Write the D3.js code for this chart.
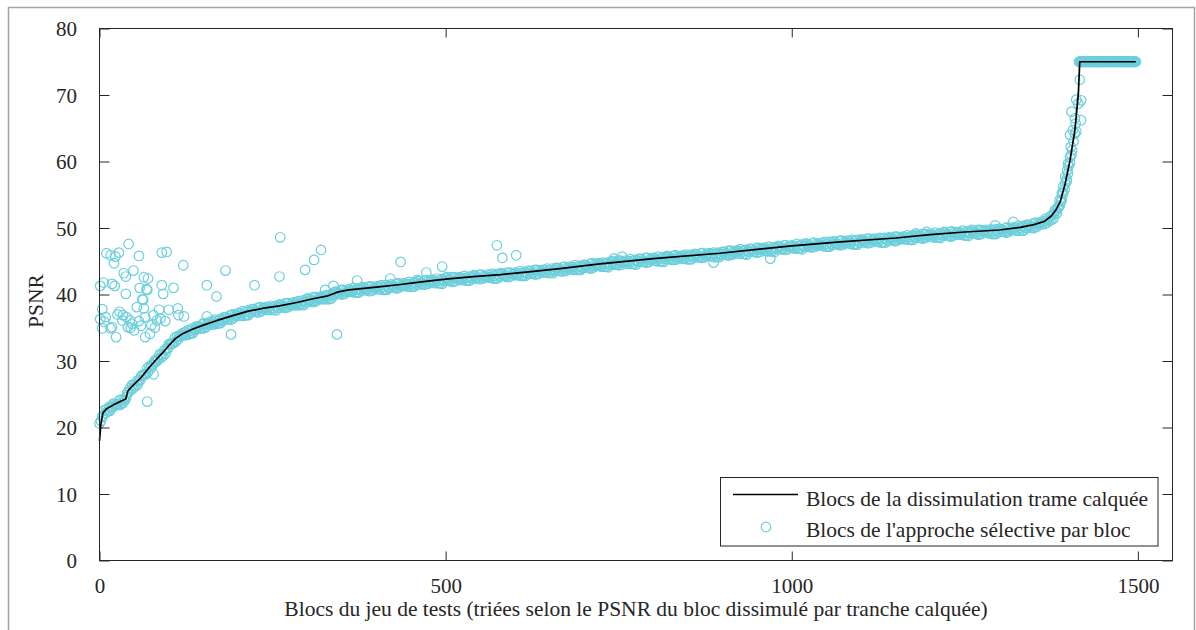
<!DOCTYPE html>
<html>
<head>
<meta charset="utf-8">
<script src="https://cdn.jsdelivr.net/npm/d3@7"></script>
<style>
  html, body { margin: 0; padding: 0; background: #fff; }
  svg { display: block; }
  text { font-family: "Liberation Serif", "Times New Roman", serif; fill: #262626; }
</style>
</head>
<body>
<svg id="chart" width="1196" height="630"></svg>
<script>
// ---------- DATA ----------
const xTicks = [0, 500, 1000, 1500];
const yTicks = [0, 10, 20, 30, 40, 50, 60, 70, 80];
const xLabel = "Blocs du jeu de tests (triées selon le PSNR du bloc dissimulé par tranche calquée)";
const yLabel = "PSNR";
const seriesNames = ["Blocs de la dissimulation trame calquée", "Blocs de l'approche sélective par bloc"];

// Black line: frame-copy concealment, sorted PSNR (block index, PSNR)
const lineIdx  = [0, 2, 5, 10, 20, 30, 38, 41, 50, 60, 70, 80, 90, 100, 110, 120, 135, 150, 170, 195,
                  215, 235, 260, 285, 310, 330, 345, 360, 400, 435, 465, 500, 540, 580, 620, 665, 723, 800, 896, 950,
                  1000, 1070, 1150, 1200, 1250, 1300, 1330, 1350, 1365, 1375, 1382, 1388, 1395, 1402, 1409, 1414, 1416, 1497];
const linePsnr = [18.0, 20.5, 22.2, 22.8, 23.4, 23.9, 24.3, 25.5, 26.5, 27.5, 28.8, 30.0, 31.1, 32.3, 33.4, 34.1, 34.8, 35.4, 36.1, 36.9,
                  37.5, 37.9, 38.3, 38.8, 39.4, 39.8, 40.4, 40.7, 41.1, 41.5, 41.9, 42.3, 42.7, 43.0, 43.4, 43.9, 44.6, 45.4, 46.2, 46.8,
                  47.3, 47.9, 48.5, 49.0, 49.4, 49.7, 50.1, 50.5, 51.0, 51.8, 52.8, 54.0, 56.7, 60.2, 64.7, 70.2, 75.0, 75.0];

// Cyan circles: block-selective approach, dense band along the curve.
// Three interleaved samplings, one value every 5 blocks, starting at block 0, 2 and 4.
const bandStep = 5;
const bandPsnr = [
  20.6,21.8,22.7,22.5,23.6,23.4,23.4,24.2,25.2,25.6,
  26.4,26.4,27.7,27.9,28.3,29.4,30.1,30.2,31.0,31.1,
  32.5,32.6,32.9,33.8,34.2,33.9,34.5,34.2,35.2,34.9,
  34.9,35.6,35.9,35.5,36.0,35.7,36.6,36.3,36.2,36.9,
  37.2,36.8,37.3,36.9,37.8,37.4,37.3,37.9,38.1,37.7,
  38.0,37.6,38.5,38.1,38.0,38.6,38.8,38.4,38.8,38.4,
  39.4,39.0,38.9,39.5,39.7,39.3,39.7,39.4,40.4,40.1,
  40.0,40.6,40.8,40.4,40.7,40.3,41.1,40.7,40.5,41.1,
  41.2,40.8,41.1,40.7,41.5,41.1,40.9,41.5,41.7,41.2,
  41.6,41.2,42.0,41.6,41.5,42.0,42.2,41.7,42.1,41.6,
  42.5,42.1,41.9,42.5,42.6,42.2,42.5,42.1,42.9,42.4,
  42.3,42.8,43.0,42.5,42.8,42.4,43.2,42.8,42.6,43.2,
  43.3,42.9,43.2,42.8,43.6,43.2,43.0,43.6,43.7,43.3,
  43.6,43.2,44.0,43.6,43.5,44.0,44.2,43.7,44.1,43.7,
  44.5,44.1,43.9,44.5,44.7,44.2,44.6,44.1,45.0,44.5,
  44.4,44.9,45.1,44.6,45.0,44.5,45.4,44.9,44.8,45.3,
  45.5,45.0,45.4,44.9,45.8,45.3,45.2,45.7,45.8,45.4,
  45.7,45.3,46.1,45.6,45.5,46.0,46.2,45.7,46.1,45.6,
  46.4,46.0,45.9,46.4,46.6,46.1,46.5,46.0,46.9,46.4,
  46.3,46.9,47.0,46.5,46.9,46.4,47.3,46.8,46.7,47.2,
  47.4,46.9,47.3,46.8,47.7,47.2,47.1,47.6,47.7,47.3,
  47.6,47.2,48.0,47.6,47.4,47.9,48.1,47.6,48.0,47.5,
  48.3,47.9,47.7,48.2,48.4,47.9,48.3,47.8,48.6,48.2,
  48.0,48.6,48.7,48.3,48.6,48.2,49.0,48.6,48.4,49.0,
  49.1,48.6,49.0,48.5,49.4,48.9,48.7,49.3,49.4,49.0,
  49.3,48.8,49.7,49.2,49.0,49.6,49.7,49.2,49.5,49.1,
  49.9,49.5,49.3,49.9,50.1,49.6,50.0,49.6,50.5,50.1,
  50.0,50.7,50.9,50.6,51.3,51.2,52.7,53.1,54.3,56.7,
  59.3,61.7,65.7,75,75,75,75,75,75,75,
  75,75,75,75,75,75,75,75,75,75
];
const band2Start = 2;
const band2Psnr = [
  21.0,22.6,22.4,23.1,23.6,23.4,24.2,24.1,25.3,26.4,
  26.2,27.1,27.9,28.0,29.2,29.4,29.9,31.0,30.8,31.8,
  32.6,32.7,33.7,33.7,33.9,34.6,34.2,34.8,35.2,34.9,
  35.7,35.5,35.5,36.2,35.7,36.2,36.6,36.3,37.0,36.8,
  36.8,37.5,36.9,37.4,37.8,37.4,38.1,37.8,37.7,38.3,
  37.7,38.2,38.4,38.0,38.7,38.4,38.4,39.0,38.5,39.0,
  39.3,38.9,39.6,39.3,39.3,39.9,39.3,40.0,40.4,40.1,
  40.7,40.4,40.4,41.0,40.3,40.8,41.0,40.6,41.2,40.9,
  40.8,41.4,40.7,41.2,41.5,41.0,41.7,41.3,41.3,41.9,
  41.2,41.7,42.0,41.5,42.2,41.8,41.8,42.4,41.7,42.2,
  42.4,42.0,42.6,42.3,42.2,42.8,42.1,42.6,42.8,42.4,
  43.0,42.6,42.6,43.1,42.4,42.9,43.1,42.7,43.3,43.0,
  42.9,43.5,42.8,43.3,43.5,43.1,43.7,43.4,43.3,43.9,
  43.3,43.7,44.0,43.5,44.2,43.8,43.8,44.4,43.7,44.2,
  44.4,44.0,44.7,44.3,44.3,44.8,44.2,44.6,44.9,44.5,
  45.1,44.8,44.7,45.3,44.6,45.1,45.3,44.9,45.5,45.2,
  45.1,45.7,45.0,45.4,45.7,45.2,45.9,45.5,45.4,46.0,
  45.3,45.8,46.0,45.6,46.2,45.8,45.8,46.3,45.7,46.1,
  46.4,45.9,46.6,46.2,46.2,46.8,46.1,46.5,46.8,46.4,
  47.0,46.7,46.6,47.2,46.5,47.0,47.2,46.8,47.4,47.1,
  47.0,47.6,46.9,47.3,47.6,47.1,47.8,47.4,47.4,47.9,
  47.2,47.7,47.9,47.5,48.1,47.7,47.7,48.2,47.6,48.0,
  48.2,47.8,48.4,48.1,48.0,48.5,47.9,48.3,48.5,48.1,
  48.7,48.4,48.3,48.9,48.2,48.7,48.9,48.5,49.1,48.8,
  48.7,49.3,48.6,49.0,49.3,48.8,49.5,49.1,49.0,49.6,
  48.9,49.3,49.6,49.1,49.7,49.4,49.3,49.8,49.1,49.6,
  49.8,49.4,50.1,49.7,49.7,50.3,49.6,50.1,50.4,50.0,
  50.8,50.5,50.6,51.4,51.1,52.0,52.6,53.4,55.2,57.3,
  59.8,63.0
];
const band3Start = 4;
const band3Psnr = [
  21.6,22.2,23.1,23.0,23.5,24.1,23.7,24.6,25.9,25.9,
  27.0,27.1,27.9,28.9,28.9,29.8,30.4,30.5,31.7,31.9,
  32.6,33.5,33.3,33.9,34.3,34.0,34.9,34.7,35.1,35.6,
  35.1,35.6,35.9,35.6,36.3,36.1,36.5,36.9,36.5,36.9,
  37.2,36.8,37.6,37.3,37.6,38.0,37.5,37.9,38.1,37.7,
  38.3,38.0,38.3,38.7,38.2,38.6,38.8,38.4,39.1,38.8,
  39.2,39.6,39.1,39.5,39.7,39.3,40.0,39.9,40.3,40.7,
  40.1,40.5,40.7,40.3,40.9,40.6,40.8,41.2,40.6,41.0,
  41.2,40.7,41.4,41.0,41.3,41.6,41.1,41.5,41.6,41.2,
  41.8,41.5,41.8,42.1,41.6,42.0,42.1,41.7,42.3,42.0,
  42.2,42.6,42.0,42.4,42.5,42.1,42.7,42.4,42.6,43.0,
  42.4,42.7,42.9,42.4,43.1,42.7,42.9,43.3,42.7,43.1,
  43.2,42.8,43.4,43.1,43.3,43.7,43.1,43.5,43.7,43.2,
  43.9,43.5,43.8,44.1,43.6,44.0,44.1,43.7,44.3,44.0,
  44.3,44.6,44.1,44.5,44.6,44.2,44.8,44.5,44.7,45.1,
  44.5,44.9,45.0,44.6,45.2,44.9,45.1,45.5,44.9,45.3,
  45.4,45.0,45.6,45.3,45.5,45.8,45.3,45.6,45.8,45.3,
  46.0,45.6,45.8,46.2,45.6,46.0,46.1,45.6,46.3,45.9,
  46.2,46.6,46.0,46.4,46.5,46.1,46.7,46.4,46.6,47.0,
  46.4,46.8,46.9,46.5,47.1,46.8,47.0,47.4,46.8,47.2,
  47.3,46.9,47.5,47.2,47.4,47.7,47.2,47.5,47.7,47.2,
  47.9,47.5,47.7,48.1,47.5,47.9,48.0,47.5,48.2,47.8,
  48.1,48.4,47.8,48.2,48.3,47.8,48.5,48.1,48.4,48.7,
  48.2,48.5,48.7,48.2,48.9,48.5,48.8,49.1,48.6,48.9,
  49.0,48.6,49.2,48.9,49.1,49.4,48.9,49.2,49.3,48.9,
  49.5,49.2,49.4,49.7,49.1,49.5,49.6,49.1,49.8,49.4,
  49.7,50.0,49.5,49.9,50.0,49.6,50.3,50.0,50.3,50.7,
  50.2,50.7,51.0,50.8,51.8,52.1,53.0,54.0,55.8,58.2,
  61.0,64.2
];
// Saturated blocks at the top right: every block from 1416 to 1497 reads 75 dB
const capFirst = 1416, capLast = 1497, capPsnr = 75;

// Cyan circles: scattered points away from the band (block index, PSNR)
const extraIdx = [
  42, 10, 16, 23, 28, 21, 57, 90, 97, 121, 261, 182, 260, 297, 35, 38, 49, 64, 70, 1,
  6, 18, 22, 38, 58, 68, 90, 92, 107, 155, 169, 224, 62, 4, 1, 7, 4, 18, 24, 29,
  34, 39, 44, 33, 41, 50, 47, 54, 63, 66, 66, 73, 78, 83, 88, 86, 100, 113, 122, 190,
  69, 78, 9, 16, 69, 64, 114, 155, 57, 60, 75, 80, 95, 45, 26,
  310, 320, 326, 338, 343, 372, 420, 435, 459, 472, 495, 502, 574, 582, 602, 743, 755, 819, 887, 925,
  955, 969, 1022, 1179, 1195, 1294, 1320,
  1416, 1411, 1418, 1414, 1404, 1418, 1409, 1406, 1402, 1411, 1403, 1402, 1399, 1398, 1395, 1397, 1392, 1390, 1387, 1385,
  1383, 1378
];
const extraPsnr = [
  47.6, 46.2, 45.9, 45.7, 46.3, 44.7, 45.8, 46.3, 46.4, 44.4, 48.6, 43.6, 42.7, 43.7, 43.2, 42.7, 43.6, 42.6, 42.4, 41.3,
  41.8, 41.6, 41.3, 40.1, 41.0, 40.8, 41.4, 40.1, 41.0, 41.4, 39.7, 41.4, 39.3, 37.8, 36.3, 35.9, 34.9, 35.1, 33.6, 37.4,
  36.9, 36.6, 36.1, 36.1, 35.1, 34.6, 35.6, 38.1, 39.2, 36.6, 33.6, 34.1, 36.9, 36.1, 36.4, 37.7, 37.7, 37.9, 36.7, 34.0,
  23.9, 28.0, 36.6, 34.9, 40.7, 37.9, 36.9, 36.7, 36.0, 35.3, 35.4, 35.0, 36.0, 35.0, 37.0,
  45.2, 46.7, 40.7, 41.3, 34.0, 42.1, 42.4, 44.9, 42.2, 43.3, 44.2, 42.6, 47.4, 45.5, 45.9, 45.4, 45.7, 45.7, 44.8, 46.8,
  46.8, 45.4, 47.4, 49.2, 49.4, 50.4, 50.9,
  72.3, 69.3, 69.2, 68.7, 67.5, 66.2, 66.5, 64.7, 64.0, 64.5, 62.2, 60.7, 59.7, 58.7, 57.7, 57.0, 56.2, 55.2, 54.2, 53.2,
  52.2, 51.4
];

// ---------- STYLE ----------
const cyan = "#6ccfdc";
const axisColor = "#262626";

const svg = d3.select("#chart");

// outer figure frame
svg.append("rect")
  .attr("x", 8.5).attr("y", 7.5).attr("width", 1186).attr("height", 650)
  .attr("fill", "none").attr("stroke", "#a3a3a3").attr("stroke-width", 1.5);

const x = d3.scaleLinear().domain([0, 1550]).range([99.5, 1172.5]);
const y = d3.scaleLinear().domain([0, 80]).range([560.5, 28.5]);

// ---------- MARKS ----------
const selPoints = []
  .concat(bandPsnr.map((v, i) => ({ i: i * bandStep, v })))
  .concat(band2Psnr.map((v, i) => ({ i: band2Start + i * bandStep, v })))
  .concat(band3Psnr.map((v, i) => ({ i: band3Start + i * bandStep, v })))
  .concat(d3.range(capFirst, capLast + 1).map(i => ({ i, v: capPsnr })))
  .concat(extraIdx.map((d, k) => ({ i: d, v: extraPsnr[k] })));

svg.append("g")
  .selectAll("circle")
  .data(selPoints)
  .join("circle")
  .attr("cx", d => x(d.i))
  .attr("cy", d => y(d.v))
  .attr("r", 4.8)
  .attr("fill", "none")
  .attr("stroke", cyan)
  .attr("stroke-width", 1.2);

const linePts = lineIdx.map((d, k) => [d, linePsnr[k]]);
svg.append("path")
  .datum(linePts)
  .attr("d", d3.line().x(d => x(d[0])).y(d => y(d[1])))
  .attr("fill", "none")
  .attr("stroke", "#000")
  .attr("stroke-width", 1.7)
  .attr("stroke-linejoin", "round");

// ---------- AXES ----------
function styleAxis(g) {
  g.select(".domain").remove();
  g.selectAll(".tick line").attr("stroke", axisColor).attr("stroke-width", 1);
}

const gx = svg.append("g").attr("transform", "translate(0,560.5)")
  .call(d3.axisBottom(x).tickValues(xTicks).tickSizeInner(-9).tickSizeOuter(0).tickFormat(d3.format("d")));
styleAxis(gx);
gx.selectAll(".tick text")
  .attr("y", 32).attr("dy", 0)
  .attr("font-size", 21).attr("fill", axisColor)
  .style("font-family", '"Liberation Serif", "Times New Roman", serif');

const gxTop = svg.append("g").attr("transform", "translate(0,28.5)")
  .call(d3.axisTop(x).tickValues(xTicks).tickSizeInner(-9).tickSizeOuter(0).tickFormat(""));
styleAxis(gxTop);

const gy = svg.append("g").attr("transform", "translate(99.5,0)")
  .call(d3.axisLeft(y).tickValues(yTicks).tickSizeInner(-10).tickSizeOuter(0).tickFormat(d3.format("d")));
styleAxis(gy);
gy.selectAll(".tick text")
  .attr("x", -22.5).attr("dy", "0.34em")
  .attr("font-size", 21).attr("fill", axisColor)
  .style("font-family", '"Liberation Serif", "Times New Roman", serif');

const gyRight = svg.append("g").attr("transform", "translate(1172.5,0)")
  .call(d3.axisRight(y).tickValues(yTicks).tickSizeInner(-10).tickSizeOuter(0).tickFormat(""));
styleAxis(gyRight);

// plot box
svg.append("rect")
  .attr("x", 99.5).attr("y", 28.5).attr("width", 1073).attr("height", 532)
  .attr("fill", "none").attr("stroke", axisColor).attr("stroke-width", 1);

// axis titles
svg.append("text")
  .attr("x", 636).attr("y", 616)
  .attr("text-anchor", "middle").attr("font-size", 21.5)
  .text(xLabel);

svg.append("text")
  .attr("transform", "translate(43,301) rotate(-90)")
  .attr("text-anchor", "middle").attr("font-size", 21.5)
  .text(yLabel);

// ---------- LEGEND ----------
const lg = svg.append("g");
lg.append("rect")
  .attr("x", 720.5).attr("y", 477.5).attr("width", 437.5).attr("height", 68.5)
  .attr("fill", "#fff").attr("stroke", axisColor).attr("stroke-width", 1);
lg.append("line")
  .attr("x1", 733).attr("x2", 798).attr("y1", 494.5).attr("y2", 494.5)
  .attr("stroke", "#000").attr("stroke-width", 1.3);
lg.append("circle")
  .attr("cx", 766).attr("cy", 527).attr("r", 4.8)
  .attr("fill", "none").attr("stroke", cyan).attr("stroke-width", 1.2);
lg.selectAll("text.leg")
  .data(seriesNames)
  .join("text")
  .attr("class", "leg")
  .attr("x", 806)
  .attr("y", (d, i) => 506 + i * 31)
  .attr("font-size", 21.5)
  .text(d => d);
</script>
</body>
</html>
